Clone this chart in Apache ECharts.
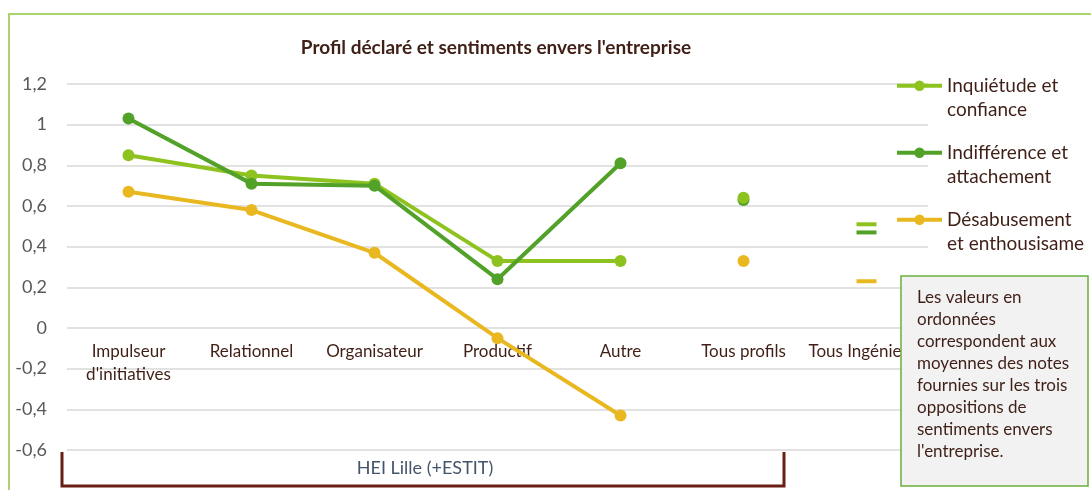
<!DOCTYPE html>
<html>
<head>
<meta charset="utf-8">
<script src="https://cdn.jsdelivr.net/npm/echarts@6/dist/echarts.min.js"></script>
<style>
  html, body { margin: 0; padding: 0; background: #fff; }
  #chart { width: 1091px; height: 490px; }
</style>
</head>
<body>
<div id="chart"></div>
<script>
var categories = ["Impulseur\nd'initiatives", 'Relationnel', 'Organisateur', 'Productif', 'Autre', 'Tous profils', 'Tous Ingénieurs'];
var seriesNames = ['Inquiétude et confiance', 'Indifférence et attachement', 'Désabusement et enthousisame'];
var inquietude = [0.85, 0.75, 0.71, 0.33, 0.33, 0.64, 0.51];
var indifference = [1.03, 0.71, 0.70, 0.24, 0.81, 0.63, 0.47];
var desabusement = [0.67, 0.58, 0.37, -0.05, -0.43, 0.33, 0.23];
var yTicks = { min: -0.6, max: 1.2, interval: 0.2 };

var colors = ['#8DC21F', '#52A128', '#E9B821'];
// ligne vide en tête pour aligner l'icône sur la première ligne
var legendText = {
  'Inquiétude et confiance': '\nInquiétude et\nconfiance',
  'Indifférence et attachement': '\nIndifférence et\nattachement',
  'Désabusement et enthousisame': '\nDésabusement\net enthousisame'
};
var brown = '#3F1F16';
var font = 'Lato';

var gridTop = 84, gridHeight = 366;
// l'axe des catégories passe par 0, étiquettes comprises
var zeroOffset = -gridHeight * (0 - yTicks.min) / (yTicks.max - yTicks.min);

var chart = echarts.init(document.getElementById('chart'));

// lignes sur les 5 profils, points isolés pour les deux totaux
function lineData(values) {
  return values.map(function (v, i) { return i < 5 ? v : '-'; });
}
function totalsData(values) {
  return [
    { value: [categories[5], values[5]], symbol: 'circle', symbolSize: 12 },
    { value: [categories[6], values[6]], symbol: 'rect', symbolSize: [20, 4] }
  ];
}

var allValues = [inquietude, indifference, desabusement];
var series = [];
allValues.forEach(function (vals, i) {
  series.push({
    name: seriesNames[i],
    type: 'line',
    data: lineData(vals),
    symbol: 'circle',
    symbolSize: 12,
    color: colors[i],
    lineStyle: { width: 4, color: colors[i] },
    itemStyle: { color: colors[i], opacity: 1 },
    z: 3 + i
  });
});
allValues.forEach(function (vals, i) {
  series.push({
    name: seriesNames[i],
    type: 'scatter',
    data: totalsData(vals),
    itemStyle: { color: colors[i], opacity: 1 },
    z: 3 + (i === 0 ? 2 : i - 1)
  });
});

var option = {
  animation: false,
  textStyle: { fontFamily: font },
  title: {
    text: "Profil déclaré et sentiments envers l'entreprise",
    left: 491,
    top: 33,
    textAlign: 'center',
    textStyle: { fontFamily: font, fontSize: 19, fontWeight: 'bold', color: brown }
  },
  legend: {
    orient: 'vertical',
    left: 895,
    top: 49,
    padding: 0,
    itemGap: -6.5,
    itemWidth: 45,
    itemHeight: 13,
    data: seriesNames,
    formatter: function (name) { return legendText[name]; },
    lineStyle: { width: 4 },
    textStyle: { fontFamily: font, fontSize: 19, color: brown, lineHeight: 24.5 }
  },
  grid: { left: 67, top: gridTop, width: 861, height: gridHeight, outerBoundsMode: 'none' },
  xAxis: {
    type: 'category',
    data: categories,
    boundaryGap: true,
    offset: zeroOffset,
    axisLine: { show: false, onZero: false },
    axisTick: { show: false },
    axisLabel: { margin: 12, fontFamily: font, fontSize: 17, color: brown, lineHeight: 23, interval: 0 }
  },
  yAxis: {
    type: 'value',
    min: yTicks.min,
    max: yTicks.max,
    interval: yTicks.interval,
    axisLine: { show: false },
    axisTick: { show: false },
    splitLine: { lineStyle: { color: '#D9D9D9', width: 1.5 } },
    axisLabel: {
      margin: 20,
      fontFamily: font,
      fontSize: 18,
      color: '#595959',
      formatter: function (v) { return String(+v.toFixed(1)).replace('.', ','); }
    }
  },
  graphic: [
    {
      type: 'rect', z: 0, silent: true,
      shape: { x: 9, y: 14, width: 1100, height: 500 },
      style: { fill: null, stroke: '#8DC63F', lineWidth: 1.5 }
    },
    {
      type: 'polyline', z: 100,
      shape: { points: [[62, 452], [62, 486], [784, 486], [784, 452]] },
      style: { fill: null, stroke: '#6B1E14', lineWidth: 3 }
    },
    {
      type: 'text', z: 100, x: 425, y: 468,
      style: { text: 'HEI Lille (+ESTIT)', fontFamily: font, fontSize: 18, fill: '#44546A', align: 'center', verticalAlign: 'middle' }
    },
    {
      type: 'rect', z: 100,
      shape: { x: 901, y: 276, width: 187, height: 210 },
      style: { fill: '#F2F2F2', stroke: '#6BAE3E', lineWidth: 1.5 }
    },
    {
      type: 'text', z: 101, x: 917, y: 286,
      style: {
        text: "Les valeurs en\nordonnées\ncorrespondent aux\nmoyennes des notes\nfournies sur les trois\noppositions de\nsentiments envers\nl'entreprise.",
        fontFamily: font, fontSize: 17, lineHeight: 22.1, fill: brown
      }
    }
  ],
  series: series
};

chart.setOption(option);
</script>
</body>
</html>
